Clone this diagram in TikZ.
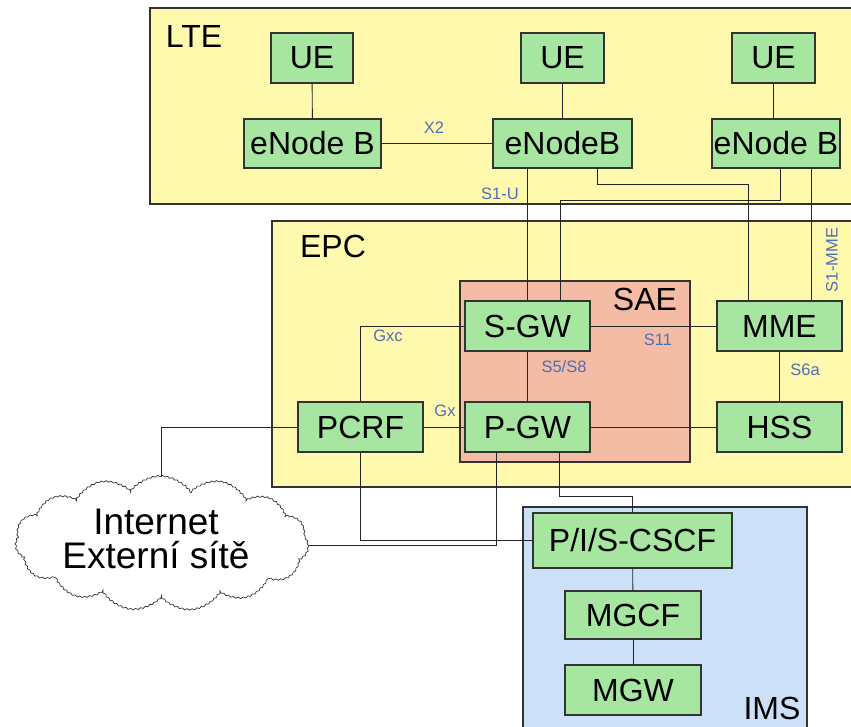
\documentclass[tikz,border=0pt]{standalone}
\usepackage{fontspec}
\setmainfont{Liberation Sans}
\usetikzlibrary{shapes.symbols, decorations.pathmorphing}
\definecolor{areaYellow}{HTML}{FFF9AE}
\definecolor{boxGreen}{HTML}{A6E6A0}
\definecolor{saeSalmon}{HTML}{F4BCA4}
\definecolor{imsBlue}{HTML}{CCE0F8}
\definecolor{ifaceBlue}{HTML}{4E6FB6}

\begin{document}
\begin{tikzpicture}[x=1pt, y=-1pt,
    box/.style={draw=black!80, line width=1.2pt, fill=boxGreen, rectangle, inner sep=0pt,
        font=\fontsize{32}{32}\selectfont},
    area/.style={draw=black!80, line width=1.2pt},
    arealabel/.style={font=\fontsize{32}{32}\selectfont},
    iface/.style={text=ifaceBlue, font=\fontsize{16.5}{16.5}\selectfont},
    link/.style={line width=0.9pt, draw=black!85}]
    \useasboundingbox (0,0) rectangle (851,727);
    \clip (0,0) rectangle (851,727);

    % domains
    \filldraw[area, fill=areaYellow] (150,8) rectangle (870,204);
    \filldraw[area, fill=areaYellow] (272,221) rectangle (870,487);
    \filldraw[area, fill=saeSalmon] (460,281) rectangle (690,462);
    \filldraw[area, fill=imsBlue] (523,507) rectangle (807,760);
    \node[arealabel] (lte) at (194,36) {LTE};
    \node[arealabel] (epc) at (333,246) {EPC};
    \node[arealabel] (sae) at (645,299) {SAE};
    \node[arealabel] (ims) at (772,708) {IMS};

    % radio part
    \node[box, minimum width=82pt, minimum height=50pt] (ue1) at (312,58) {UE};
    \node[box, minimum width=83pt, minimum height=50pt] (ue2) at (562.5,58) {UE};
    \node[box, minimum width=83pt, minimum height=50pt] (ue3) at (773.5,58) {UE};
    \node[box, minimum width=137pt, minimum height=49pt] (enb1) at (312.5,143.5) {eNode B};
    \node[box, minimum width=139pt, minimum height=49pt] (enb2) at (562.5,143.5) {eNodeB};
    \node[box, minimum width=128pt, minimum height=49pt] (enb3) at (776,143.5) {eNode B};

    % core
    \node[box, minimum width=125pt, minimum height=50pt] (sgw) at (527.5,326) {S-GW};
    \node[box, minimum width=125pt, minimum height=50pt] (mme) at (779.5,326) {MME};
    \node[box, minimum width=125pt, minimum height=50pt] (pcrf) at (360.5,427) {PCRF};
    \node[box, minimum width=125pt, minimum height=50pt] (pgw) at (527.5,427) {P-GW};
    \node[box, minimum width=125pt, minimum height=50pt] (hss) at (779.5,427) {HSS};

    % ims
    \node[box, minimum width=199pt, minimum height=55pt] (cscf) at (632.5,540.5) {P/I/S-CSCF};
    \node[box, minimum width=136pt, minimum height=48pt] (mgcf) at (633,615) {MGCF};
    \node[box, minimum width=136pt, minimum height=50pt] (mgw) at (633,690) {MGW};

    % internet
    \node[cloud, cloud puffs=15, cloud puff arc=110, cloud ignores aspect, draw=black!80,
        line width=0.7pt, fill=white, minimum width=296pt, minimum height=136pt,
        decorate, decoration={snake, amplitude=0.7pt, segment length=5pt}] (inet) at (161,545) {};
    \node[align=center, font=\fontsize{37}{34}\selectfont] (inettext) at (156,539)
        {Internet\\Externí sítě};

    % links
    \draw[link] (ue1) -- (enb1);
    \draw[link] (ue2) -- (enb2);
    \draw[link] (ue3.south) -- (ue3.south |- enb3.north);
    \draw[link] (enb1) -- (enb2);
    \draw[link] (sgw.north |- enb2.south) -- (sgw.north);
    \draw[link] ([xshift=34.5pt]enb2.south) -- ++(0,16) -| ([xshift=-31.5pt]mme.north);
    \draw[link] ([xshift=4pt]enb3.south) -- ++(0,32) -| ([xshift=32.5pt]sgw.north);
    \draw[link] ([xshift=31.5pt]mme.north |- enb3.south) -- ([xshift=31.5pt]mme.north);
    \draw[link] (sgw) -- (mme);
    \draw[link] (sgw) -- (pgw);
    \draw[link] (mme) -- (hss);
    \draw[link] (sgw.west) -| (pcrf.north);
    \draw[link] (pcrf) -- (pgw);
    \draw[link] (pgw) -- (hss);
    \draw[link] (pcrf.west) -| (inet.north);
    \draw[link] (pcrf.south) |- (cscf.west);
    \draw[link] ([xshift=-31.5pt]pgw.south) |- (inet.east);
    \draw[link] ([xshift=31.5pt]pgw.south) -- ++(0,44) -| (cscf.north);
    \draw[link] (cscf) -- (mgcf);
    \draw[link] (mgcf) -- (mgw);

    % interface names
    \node[iface] (x2) at (434,128) {X2};
    \node[iface] (s1u) at (500,194) {S1-U};
    \node[iface, rotate=90] (s1mme) at (832,260) {S1-MME};
    \node[iface] (gxc) at (388,336) {Gxc};
    \node[iface] (gx) at (445,411) {Gx};
    \node[iface] (s5s8) at (564,367) {S5/S8};
    \node[iface] (s11) at (658,340) {S11};
    \node[iface] (s6a) at (805,370) {S6a};
\end{tikzpicture}
\end{document}
